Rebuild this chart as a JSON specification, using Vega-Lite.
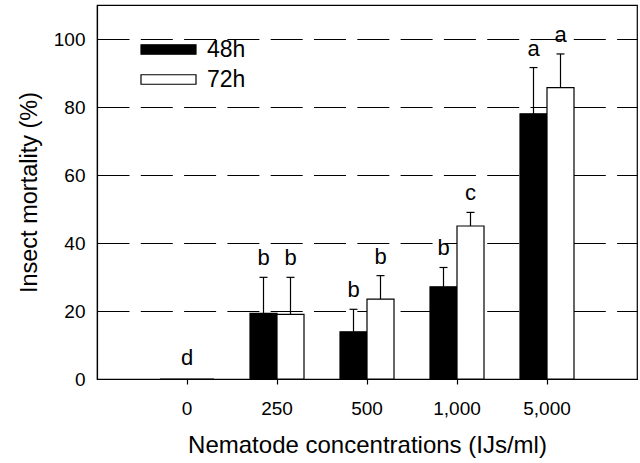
{
  "$schema": "https://vega.github.io/schema/vega-lite/v6.json",
  "width": 540,
  "height": 374,
  "autosize": {"type": "none"},
  "padding": {"left": 97, "top": 5, "right": 3, "bottom": 84},
  "background": "white",
  "config": {
    "font": "Liberation Sans",
    "view": {"stroke": "black", "strokeWidth": 1.2},
    "axis": {
      "domainColor": "black",
      "domainWidth": 1.2,
      "tickColor": "black",
      "labelColor": "black",
      "titleColor": "black",
      "labelFont": "Liberation Sans",
      "titleFont": "Liberation Sans",
      "titleFontWeight": "normal"
    }
  },
  "datasets": {
    "bars": [
      {"concentration": "0", "time": "48h", "mean": 0, "upper": null, "letter": null},
      {"concentration": "0", "time": "72h", "mean": 0, "upper": null, "letter": null},
      {"concentration": "250", "time": "48h", "mean": 19.3, "upper": 29.9, "letter": "b"},
      {"concentration": "250", "time": "72h", "mean": 19.0, "upper": 29.9, "letter": "b"},
      {"concentration": "500", "time": "48h", "mean": 13.9, "upper": 20.5, "letter": "b"},
      {"concentration": "500", "time": "72h", "mean": 23.5, "upper": 30.4, "letter": "b"},
      {"concentration": "1,000", "time": "48h", "mean": 27.1, "upper": 32.8, "letter": "b"},
      {"concentration": "1,000", "time": "72h", "mean": 45.0, "upper": 49.0, "letter": "c"},
      {"concentration": "5,000", "time": "48h", "mean": 78.0, "upper": 91.6, "letter": "a"},
      {"concentration": "5,000", "time": "72h", "mean": 85.7, "upper": 95.6, "letter": "a"}
    ],
    "groups": [
      {"concentration": "0", "letter": "d", "value": 0}
    ]
  },
  "encoding": {
    "x": {
      "field": "concentration",
      "type": "nominal",
      "sort": null,
      "scale": {"domain": ["0", "250", "500", "1,000", "5,000"], "paddingInner": 0.4, "paddingOuter": 0.7},
      "axis": {
        "title": "Nematode concentrations (IJs/ml)",
        "titleFontSize": 24,
        "titlePadding": 15,
        "labelFontSize": 19,
        "labelAngle": 0,
        "labelPadding": 15,
        "tickSize": 5,
        "tickWidth": 1.2,
        "grid": false
      }
    }
  },
  "layer": [
    {
      "data": {"name": "bars"},
      "mark": {"type": "bar", "stroke": "black", "strokeWidth": 1.2},
      "encoding": {
        "xOffset": {"field": "time", "type": "nominal", "scale": {"domain": ["48h", "72h"], "paddingInner": 0, "paddingOuter": 0}},
        "y": {
          "field": "mean",
          "type": "quantitative",
          "scale": {"domain": [0, 110], "nice": false},
          "axis": {
            "title": "Insect mortality (%)",
            "titleFontSize": 23.5,
            "titlePadding": 12,
            "labelFontSize": 19,
            "labelPadding": 12,
            "ticks": false,
            "values": [0, 20, 40, 60, 80, 100],
            "grid": true,
            "gridColor": "black",
            "gridWidth": 1.2,
            "gridDash": [32, 11.3]
          }
        },
        "fill": {
          "field": "time",
          "type": "nominal",
          "scale": {"domain": ["48h", "72h"], "range": ["black", "white"]},
          "legend": {
            "orient": "none",
            "legendX": 60,
            "legendY": 33,
            "title": null,
            "padding": 0,
            "symbolType": "M-5.5,-0.95H5.5V0.95H-5.5Z",
            "symbolSize": 100,
            "symbolStrokeColor": "black",
            "symbolStrokeWidth": 1.2,
            "labelFontSize": 23,
            "labelColor": "black",
            "labelOffset": 27,
            "rowPadding": 6
          }
        }
      }
    },
    {
      "data": {"name": "bars"},
      "transform": [{"filter": "datum.upper != null"}],
      "mark": {"type": "rule", "color": "black", "strokeWidth": 1.2},
      "encoding": {
        "xOffset": {"field": "time", "type": "nominal"},
        "y": {"field": "mean", "type": "quantitative"},
        "y2": {"field": "upper"}
      }
    },
    {
      "data": {"name": "bars"},
      "transform": [{"filter": "datum.upper != null"}],
      "mark": {"type": "tick", "color": "black", "size": 8, "thickness": 1.2, "opacity": 1},
      "encoding": {
        "xOffset": {"field": "time", "type": "nominal"},
        "y": {"field": "upper", "type": "quantitative"}
      }
    },
    {
      "data": {"name": "bars"},
      "transform": [{"filter": "datum.upper != null"}],
      "mark": {"type": "text", "baseline": "alphabetic", "dy": -12, "fontSize": 22, "color": "black"},
      "encoding": {
        "xOffset": {"field": "time", "type": "nominal"},
        "y": {"field": "upper", "type": "quantitative"},
        "text": {"field": "letter"}
      }
    },
    {
      "data": {"name": "groups"},
      "mark": {"type": "text", "baseline": "alphabetic", "dy": -14, "fontSize": 22, "color": "black"},
      "encoding": {
        "y": {"field": "value", "type": "quantitative"},
        "text": {"field": "letter"}
      }
    }
  ]
}
